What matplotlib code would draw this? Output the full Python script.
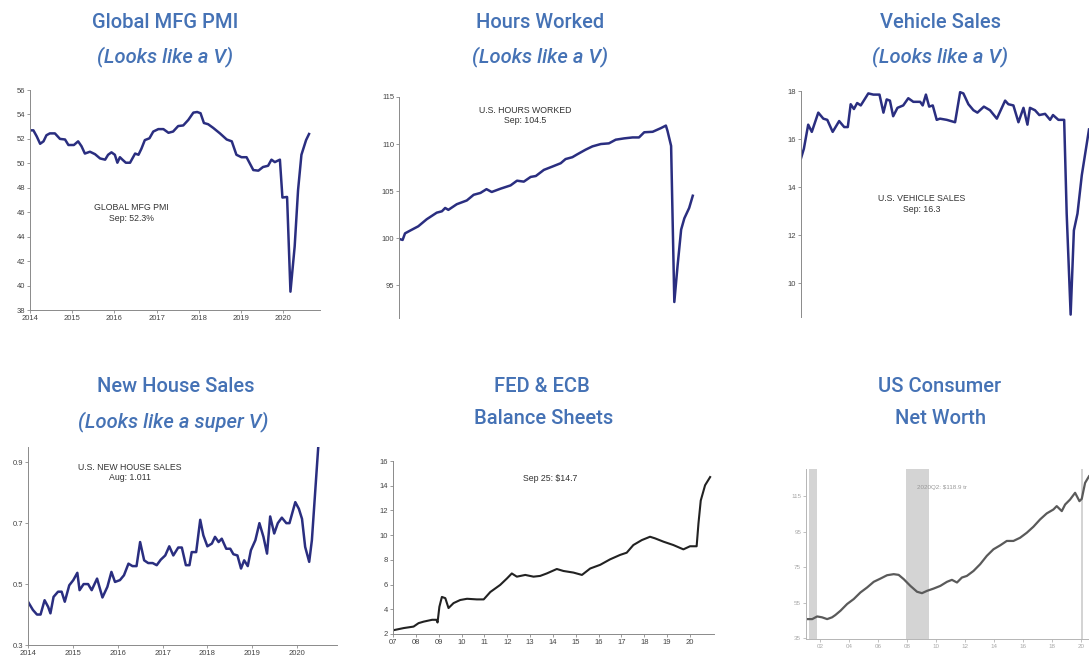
"""
Six small economic panels ("Looks like a V") rebuilt from the reference picture.
Writes out.png.
"""
import matplotlib as mpl
import matplotlib.pyplot as plt

mpl.rcParams.update({
    "font.family": "Liberation Sans", "axes.spines.top": False,
    "axes.spines.right": False, "axes.linewidth": 0.7,
    "xtick.major.size": 2, "ytick.major.size": 2,
    "xtick.major.width": 0.6, "ytick.major.width": 0.6,
})

W, H = 1089, 665
NAVY = "#2a2e80"
TITLE = "#4572b5"
AX = "#8a8a8a"
TXT = "#444444"

# --- data ---
pmi_year = [2014.00, 2014.08, 2014.16, 2014.24, 2014.32, 2014.39, 2014.47, 2014.59,
            2014.71, 2014.83, 2014.91, 2015.04, 2015.14, 2015.22, 2015.30, 2015.42,
            2015.54, 2015.66, 2015.78, 2015.85, 2015.93, 2016.01, 2016.07, 2016.13,
            2016.19, 2016.27, 2016.37, 2016.49, 2016.57, 2016.64, 2016.72, 2016.83,
            2016.92, 2017.04, 2017.16, 2017.28, 2017.39, 2017.51, 2017.63, 2017.75,
            2017.87, 2017.96, 2018.04, 2018.12, 2018.22, 2018.34, 2018.50, 2018.66,
            2018.78, 2018.89, 2019.01, 2019.13, 2019.29, 2019.41, 2019.52, 2019.64,
            2019.72, 2019.80, 2019.92, 2019.98, 2020.09, 2020.17, 2020.27, 2020.35,
            2020.43, 2020.54, 2020.61]
pmi = [52.7, 52.7, 52.2, 51.6, 51.8, 52.3, 52.45, 52.45, 52.0, 51.95, 51.5, 51.5,
       51.8, 51.4, 50.8, 50.95, 50.75, 50.4, 50.3, 50.7, 50.9, 50.7, 50.05, 50.5,
       50.3, 50.05, 50.05, 50.8, 50.7, 51.2, 51.9, 52.05, 52.6, 52.8, 52.8, 52.5,
       52.6, 53.05, 53.1, 53.55, 54.15, 54.2, 54.1, 53.3, 53.2, 52.9, 52.45, 51.95,
       51.8, 50.7, 50.5, 50.5, 49.45, 49.4, 49.7, 49.8, 50.3, 50.1, 50.3, 47.2,
       47.25, 39.5, 43.2, 47.8, 50.7, 51.9, 52.4]

hours_month = [0.1, 0.9, 1.5, 2.8, 4.8, 6.9, 9.4, 10.7, 11.5, 12.3, 14.4, 16.9,
               18.6, 20.3, 21.8, 23.1, 25.3, 27.8, 29.4, 31.1, 32.8, 34.1, 36.1,
               38.2, 40.3, 41.5, 43.2, 44.4, 46.5, 48.2, 50.3, 52.3, 54.0, 56.1,
               58.2, 59.8, 61.1, 63.2, 65.3, 66.5, 66.9, 67.8, 68.6, 69.4, 70.3,
               71.1, 72.3, 73.2]
hours = [99.9, 99.8, 100.5, 100.8, 101.25, 102.0, 102.7, 102.85, 103.2, 103.0,
         103.6, 104.0, 104.6, 104.8, 105.2, 104.9, 105.25, 105.6, 106.1, 106.0,
         106.5, 106.6, 107.25, 107.6, 107.96, 108.4, 108.6, 108.9, 109.4, 109.75,
         110.0, 110.07, 110.46, 110.6, 110.7, 110.7, 111.25, 111.3, 111.7, 111.96,
         111.4, 109.8, 93.2, 97.0, 100.9, 102.1, 103.2, 104.5]

veh_month = [0.0, 0.8, 2.0, 3.0, 4.8, 6.2, 7.3, 8.8, 10.6, 12.0, 13.0, 13.8,
             14.7, 15.6, 16.6, 18.7, 20.1, 21.8, 22.9, 23.8, 24.7, 25.6, 26.8,
             28.4, 29.8, 31.2, 33.1, 33.8, 34.7, 35.6, 36.6, 37.7, 38.6, 40.5,
             42.8, 44.2, 45.1, 46.5, 47.9, 49.0, 50.8, 52.5, 54.4, 56.7, 57.6,
             59.0, 60.4, 61.8, 62.9, 63.6, 65.0, 66.2, 67.8, 69.2, 70.0, 71.5,
             73.1, 73.8, 74.9, 75.8, 76.8, 78.0, 80.0]
vehicles = [15.2, 15.6, 16.6, 16.3, 17.1, 16.85, 16.8, 16.3, 16.75, 16.5, 16.5,
            17.45, 17.25, 17.5, 17.4, 17.9, 17.85, 17.85, 17.1, 17.65, 17.6, 16.95,
            17.3, 17.4, 17.7, 17.55, 17.55, 17.4, 17.85, 17.35, 17.4, 16.8, 16.85,
            16.8, 16.7, 17.95, 17.9, 17.45, 17.2, 17.1, 17.35, 17.2, 16.85, 17.6,
            17.45, 17.4, 16.7, 17.3, 16.6, 17.3, 17.2, 17.0, 17.05, 16.8, 17.0,
            16.8, 16.8, 12.9, 8.7, 12.2, 12.9, 14.5, 16.4]

house_year = [2014.00, 2014.11, 2014.20, 2014.28, 2014.37, 2014.45, 2014.50, 2014.57,
              2014.67, 2014.75, 2014.82, 2014.92, 2015.01, 2015.10, 2015.15, 2015.24,
              2015.34, 2015.42, 2015.54, 2015.66, 2015.77, 2015.86, 2015.94, 2016.05,
              2016.14, 2016.24, 2016.33, 2016.42, 2016.50, 2016.59, 2016.68, 2016.78,
              2016.87, 2016.96, 2017.06, 2017.15, 2017.24, 2017.35, 2017.43, 2017.52,
              2017.60, 2017.65, 2017.75, 2017.84, 2017.91, 2018.00, 2018.10, 2018.17,
              2018.25, 2018.32, 2018.42, 2018.51, 2018.58, 2018.67, 2018.75, 2018.82,
              2018.90, 2018.97, 2019.07, 2019.16, 2019.25, 2019.33, 2019.40, 2019.49,
              2019.57, 2019.66, 2019.76, 2019.83, 2019.96, 2020.04, 2020.11, 2020.18,
              2020.27, 2020.33, 2020.50]
house = [0.442, 0.415, 0.40, 0.40, 0.447, 0.425, 0.404, 0.458, 0.475, 0.475, 0.442,
         0.496, 0.513, 0.537, 0.48, 0.50, 0.50, 0.48, 0.518, 0.456, 0.491, 0.54,
         0.507, 0.513, 0.529, 0.567, 0.559, 0.559, 0.638, 0.578, 0.569, 0.569, 0.562,
         0.58, 0.594, 0.624, 0.594, 0.62, 0.62, 0.562, 0.562, 0.605, 0.605, 0.711,
         0.66, 0.624, 0.633, 0.655, 0.638, 0.649, 0.616, 0.616, 0.598, 0.594, 0.551,
         0.578, 0.559, 0.611, 0.644, 0.70, 0.655, 0.60, 0.722, 0.666, 0.70, 0.718,
         0.70, 0.70, 0.769, 0.747, 0.714, 0.622, 0.573, 0.644, 1.011]

cb_year = [2007.00, 2007.47, 2007.90, 2008.12, 2008.34, 2008.71, 2008.90, 2008.95,
           2009.03, 2009.14, 2009.29, 2009.43, 2009.65, 2009.94, 2010.24, 2010.67,
           2010.97, 2011.26, 2011.69, 2011.99, 2012.20, 2012.42, 2012.79, 2013.15,
           2013.44, 2013.73, 2014.17, 2014.46, 2014.90, 2015.27, 2015.63, 2016.07,
           2016.50, 2016.94, 2017.23, 2017.52, 2017.89, 2018.25, 2018.47, 2018.84,
           2019.27, 2019.71, 2020.00, 2020.29, 2020.37, 2020.47, 2020.66, 2020.88]
cb_assets = [2.3, 2.48, 2.6, 2.88, 3.0, 3.15, 3.15, 2.93, 4.2, 5.0, 4.9, 4.1, 4.5,
             4.75, 4.85, 4.8, 4.8, 5.4, 5.97, 6.5, 6.9, 6.64, 6.78, 6.64, 6.7, 6.9,
             7.26, 7.1, 6.97, 6.78, 7.3, 7.6, 8.04, 8.4, 8.58, 9.2, 9.6, 9.87, 9.74,
             9.47, 9.2, 8.85, 9.1, 9.1, 10.95, 12.8, 14.04, 14.7]

nw_year = [2000.97, 2001.43, 2001.77, 2002.11, 2002.46, 2002.80, 2003.03, 2003.38,
           2003.84, 2004.30, 2004.76, 2005.22, 2005.68, 2006.14, 2006.60, 2007.06,
           2007.40, 2007.75, 2008.21, 2008.67, 2009.01, 2009.36, 2009.82, 2010.28,
           2010.74, 2011.08, 2011.43, 2011.77, 2012.11, 2012.57, 2013.03, 2013.49,
           2013.95, 2014.41, 2014.87, 2015.33, 2015.79, 2016.25, 2016.71, 2017.17,
           2017.63, 2018.09, 2018.32, 2018.67, 2018.90, 2019.24, 2019.59, 2019.89,
           2020.05, 2020.28, 2020.55]
net_worth = [45.8, 45.8, 47.3, 46.8, 45.8, 46.8, 48.1, 50.5, 54.3, 57.1, 60.8, 63.6,
             66.8, 68.6, 70.5, 71.1, 70.7, 68.3, 64.5, 61.2, 60.4, 61.7, 63.0, 64.5,
             66.8, 67.9, 66.4, 69.2, 70.1, 72.9, 76.7, 81.4, 85.1, 87.3, 89.8, 89.8,
             91.6, 94.4, 97.8, 101.9, 105.3, 107.5, 109.4, 106.6, 110.3, 113.1, 116.9,
             112.2, 113.5, 122.5, 126.2]
recessions = [(2001.2, 2001.77), (2007.91, 2009.47), (2019.98, 2020.11)]


def axes_px(fig, left, top, right, bottom):
    return fig.add_axes([left / W, 1 - bottom / H, (right - left) / W, (bottom - top) / H])


def style(ax, color=AX, label=TXT, size=5.5):
    for s in ("left", "bottom"):
        ax.spines[s].set_color(color)
    ax.tick_params(colors=color, labelcolor=label, labelsize=size, pad=1.5)


def title(fig, x, y, text, italic=False):
    fig.text(x / W, 1 - y / H, text, ha="center", va="center", color=TITLE,
             family="Roboto", fontsize=14.5, fontweight="medium",
             style="italic" if italic else "normal")


def note(ax, x, y, text, size=6.3, color="#333333"):
    ax.text(x, y, text, transform=ax.transAxes, ha="center", va="center",
            fontsize=size, color=color)


fig = plt.figure(figsize=(W / 100, H / 100), dpi=100)

# Global MFG PMI
ax = axes_px(fig, 30, 90, 320, 310)
ax.plot(pmi_year, pmi, color=NAVY, lw=1.8)
ax.set_xlim(2014, 2020.87)
ax.set_ylim(38, 56)
ax.set_yticks(range(38, 57, 2))
ax.set_xticks(range(2014, 2021))
style(ax)
note(ax, 0.35, 0.44, "GLOBAL MFG PMI\nSep: 52.3%")

# Hours worked
ax = axes_px(fig, 399, 97, 700, 318)
ax.plot(hours_month, hours, color=NAVY, lw=1.8)
ax.set_xlim(0, 75)
ax.set_ylim(91.5, 115)
ax.set_yticks([95, 100, 105, 110, 115])
ax.spines["bottom"].set_visible(False)
ax.set_xticks([])
style(ax)
note(ax, 0.42, 0.915, "U.S. HOURS WORKED\nSep: 104.5")

# Vehicle sales
ax = axes_px(fig, 801, 91, W, 317)
ax.plot(veh_month, vehicles, color=NAVY, lw=1.8, clip_on=True)
ax.set_xlim(0, 80)
ax.set_ylim(8.6, 18)
ax.set_yticks(range(10, 19, 2))
ax.spines["bottom"].set_visible(False)
ax.set_xticks([])
style(ax)
note(ax, 0.42, 0.5, "U.S. VEHICLE SALES\nSep: 16.3")

# New house sales
ax = axes_px(fig, 28, 447, 337, 645)
ax.plot(house_year, house, color=NAVY, lw=1.8)
ax.set_xlim(2014, 2020.89)
ax.set_ylim(0.3, 0.95)
ax.set_yticks([0.3, 0.5, 0.7, 0.9])
ax.set_yticklabels(["0.3", "0.5", "0.7", "0.9"])
ax.set_xticks(range(2014, 2021))
style(ax)
note(ax, 0.33, 0.87, "U.S. NEW HOUSE SALES\nAug: 1.011")

# FED & ECB balance sheets
ax = axes_px(fig, 393, 461, 714, 634)
ax.plot(cb_year, cb_assets, color="#222222", lw=1.5)
ax.set_xlim(2007, 2021.05)
ax.set_ylim(2, 16)
ax.set_yticks(range(2, 17, 2))
ax.set_xticks(range(2007, 2021))
ax.set_xticklabels([f"{y % 100:02d}" for y in range(2007, 2021)])
style(ax)
note(ax, 0.49, 0.9, "Sep 25: $14.7")

# US consumer net worth
ax = axes_px(fig, 806, 469, W, 639)
for a, b in recessions:
    ax.axvspan(a, b, color="#d4d4d4", lw=0)
ax.plot(nw_year, net_worth, color="#5a5a5a", lw=1.6)
ax.set_xlim(2001.0, 2020.55)
ax.set_ylim(34.6, 130.3)
ax.set_yticks([35, 55, 75, 95, 115])
ax.set_xticks(range(2002, 2021, 2))
ax.set_xticklabels([f"{y % 100:02d}" for y in range(2002, 2021, 2)])
style(ax, color="#b5b5b5", label="#a8a8a8", size=4.5)
note(ax, 0.48, 0.89, "2020Q2: $118.9 tr", size=4.5, color="#999999")

# panel titles
title(fig, 165, 22, "Global MFG PMI")
title(fig, 165, 57, "(Looks like a V)", italic=True)
title(fig, 540, 22, "Hours Worked")
title(fig, 540, 57, "(Looks like a V)", italic=True)
title(fig, 940, 22, "Vehicle Sales")
title(fig, 940, 57, "(Looks like a V)", italic=True)
title(fig, 176, 387, "New House Sales")
title(fig, 173, 422, "(Looks like a super V)", italic=True)
title(fig, 542, 387, "FED & ECB")
title(fig, 544, 418, "Balance Sheets")
title(fig, 940, 387, "US Consumer")
title(fig, 941, 418, "Net Worth")

fig.savefig("out.png", dpi=100)
